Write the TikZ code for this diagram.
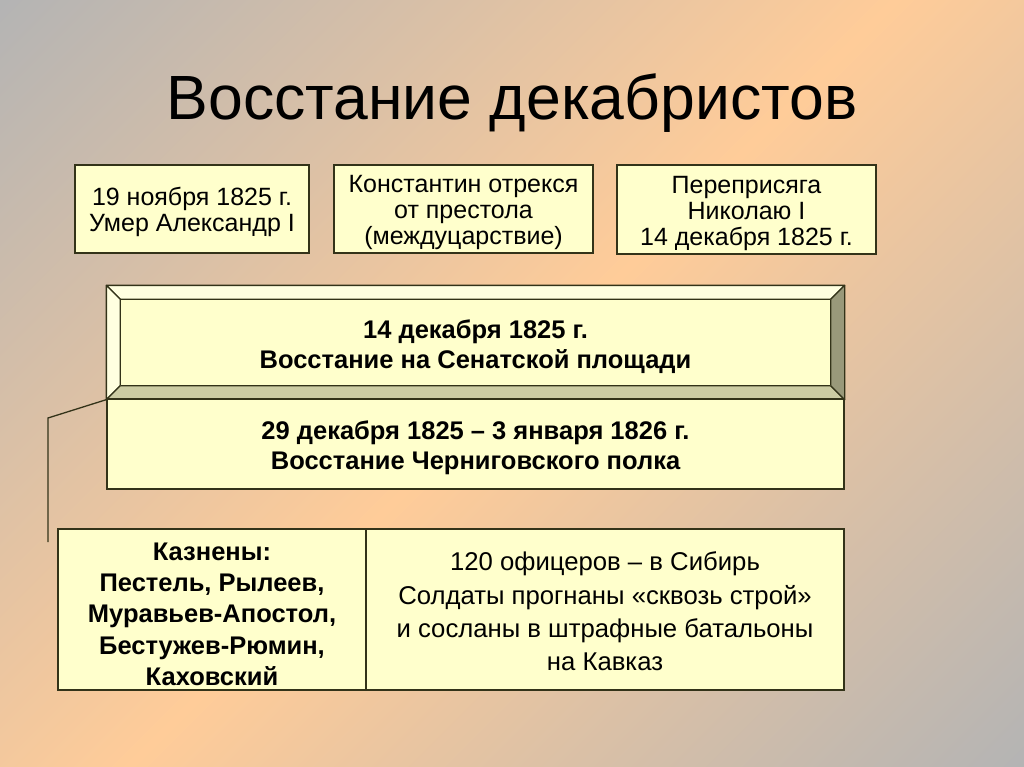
\documentclass[tikz,border=0pt]{standalone}
\usepackage{fontspec}
\setmainfont{Liberation Sans}
\usepackage{xcolor}
\usetikzlibrary{calc}
\definecolor{bgGray}{RGB}{180,180,180}
\definecolor{bgPeach}{RGB}{255,204,153}
\definecolor{boxFill}{RGB}{255,255,204}
\definecolor{boxLine}{RGB}{51,51,25}
\definecolor{bevelLight}{RGB}{255,255,224}
\definecolor{bevelMid}{RGB}{204,204,163}
\definecolor{bevelDark}{RGB}{153,153,122}
\pgfdeclareverticalshading{slideBg}{100bp}{color(0bp)=(bgGray); color(14.6bp)=(bgGray); color(50bp)=(bgPeach); color(85.4bp)=(bgGray); color(100bp)=(bgGray)}
\newcommand{\lowerText}{\rule{0pt}{1em}}

\begin{document}
\begin{tikzpicture}[x=1pt,y=-1pt,
    box/.style={draw=boxLine,line width=1.3pt,fill=boxFill,align=center,inner sep=0pt},
    bevel/.style={draw=boxLine,line width=1.3pt,line join=round},
    small/.style={font=\fontsize{25}{26}\selectfont},
    strong/.style={align=center,font=\bfseries\fontsize{25.5}{30}\selectfont}]
    \useasboundingbox (0,0) rectangle (1024,767);
    \shade[shading=slideBg,shading angle=45] (0,0) rectangle (1024,767);
    \node[anchor=base,font=\fontsize{62.5}{70}\selectfont] (title) at (512,120) {Восстание декабристов};
    % top row
    \node[box,small,minimum width=234,minimum height=88] (death) at (192,209) {\lowerText 19 ноября 1825 г.\\Умер Александр I};
    \node[box,small,minimum width=259,minimum height=88] (abdication) at (463.5,209) {\lowerText Константин отрекся\\от престола\\(междуцарствие)};
    \node[box,small,minimum width=259,minimum height=89] (oath) at (746.5,209.5) {\lowerText Переприсяга\\Николаю I\\14 декабря 1825 г.};
    % bevelled box
    \node[box,minimum width=737,minimum height=113] (senate) at (475.5,342.5) {};
    \coordinate (inNW) at ($(senate.north west)+(14,14)$);
    \coordinate (inNE) at ($(senate.north east)+(-14,14)$);
    \coordinate (inSW) at ($(senate.south west)+(14,-14)$);
    \coordinate (inSE) at ($(senate.south east)+(-14,-14)$);
    \draw[bevel,fill=bevelLight] (senate.north west) -- (senate.north east) -- (inNE) -- (inNW) -- cycle;
    \draw[bevel,fill=bevelLight] (senate.north west) -- (inNW) -- (inSW) -- (senate.south west) -- cycle;
    \draw[bevel,fill=bevelMid] (senate.south west) -- (inSW) -- (inSE) -- (senate.south east) -- cycle;
    \draw[bevel,fill=bevelDark] (senate.north east) -- (senate.south east) -- (inSE) -- (inNE) -- cycle;
    \draw[bevel,fill=boxFill] (inNW) rectangle (inSE);
    \node[strong] (senateText) at (senate.center) {\rule{0pt}{1.05em}14 декабря 1825 г.\\Восстание на Сенатской площади};
    \node[box,strong,minimum width=737,minimum height=90] (chernigov) at (475.5,444) {\rule{0pt}{1.05em}29 декабря 1825 – 3 января 1826 г.\\Восстание Черниговского полка};
    % bottom table
    \node[box,minimum width=308,minimum height=161,font=\bfseries\fontsize{25.5}{31.3}\selectfont] (executed) at (212,609.5) {\rule{0pt}{1.05em}Казнены:\\Пестель, Рылеев,\\Муравьев-Апостол,\\Бестужев-Рюмин,\\Каховский};
    \node[box,minimum width=478,minimum height=161,font=\fontsize{25.7}{33.3}\selectfont] (exiled) at (605,609.5) {\rule{0pt}{0.88em}120 офицеров – в Сибирь\\Солдаты прогнаны «сквозь строй»\\и сосланы в штрафные батальоны\\на Кавказ};
    % connector
    \coordinate (bend) at (48,418);
    \coordinate (tail) at (48,542);
    \draw[boxLine,line width=1.3pt] (senate.south west) -- (bend) -- (tail);
\end{tikzpicture}
\end{document}
